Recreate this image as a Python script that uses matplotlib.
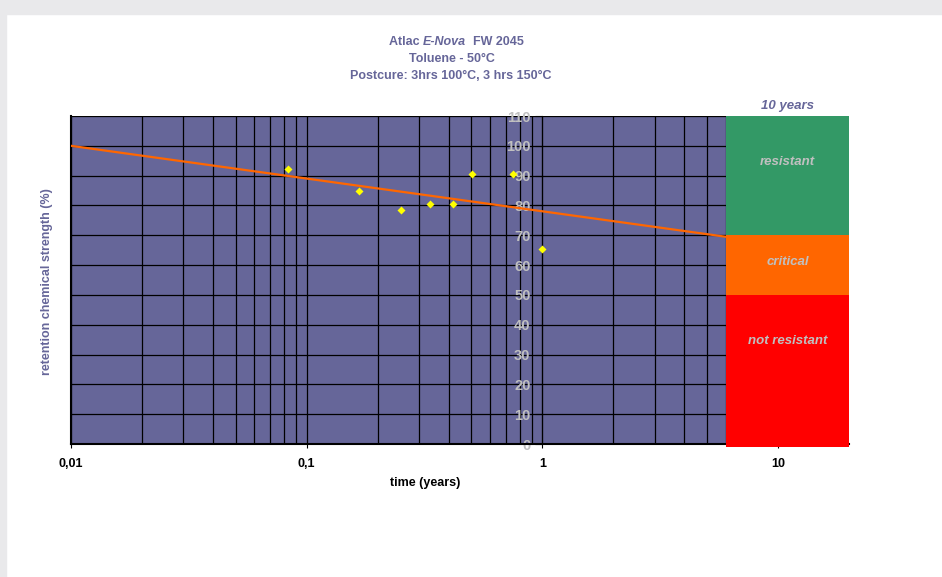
import matplotlib.pyplot as plt
from matplotlib.patches import Rectangle
from matplotlib.ticker import NullFormatter

plt.rcParams['font.family'] = ['Liberation Sans Narrow', 'Liberation Sans', 'DejaVu Sans']
plt.rcParams['font.weight'] = 'bold'

####################### DATA ###############################
# measured retention (%) vs time (years)
time_years = [0.0837, 0.167, 0.251, 0.335, 0.419, 0.502, 0.753, 1.0]
retention = [92.3, 84.7, 78.5, 80.6, 80.5, 90.6, 90.5, 65.4]

# logarithmic trend line end points
trend_x = [0.01, 6]
trend_y = [100, 69.5]

# classification bands at 10 years
band_x = [6, 20]
band_names = ['resistant', 'critical', 'not resistant']
band_low = [70, 50, -1]
band_high = [110, 70, 50]
band_colors = ['#339966', '#FF6600', '#FF0000']
band_label_y = [94.6, 61, 34.5]

xtick_values = [0.01, 0.1, 1, 10]
xtick_labels = ['0,01', '0,1', '1', '10']
ytick_values = list(range(0, 111, 10))

PURPLE = '#666699'
GREY = '#C0C0C0'

####################### PLOT ###############################
fig = plt.figure(figsize=(9.42, 5.77), dpi=100)
fig.patches.append(Rectangle((0, 1 - 14 / 577), 1, 14 / 577, transform=fig.transFigure,
                             color='#E9E9EB', zorder=0))
fig.patches.append(Rectangle((0, 0), 6 / 942, 1, transform=fig.transFigure,
                             color='#E9E9EB', zorder=0))

ax = fig.add_axes([71 / 942, 133 / 577, 778 / 942, 328 / 577])
ax.set_facecolor(PURPLE)
ax.set_xscale('log')
ax.set_xlim(0.01, 20)
ax.set_ylim(0, 110)

# grid
ax.set_xticks(xtick_values)
ax.set_xticklabels(xtick_labels, fontsize=9)
ax.xaxis.set_minor_formatter(NullFormatter())
ax.set_yticks(ytick_values)
ax.grid(which='both', axis='x', color='black', lw=0.9)
ax.grid(which='major', axis='y', color='black', lw=0.9)
ax.set_axisbelow(True)
ax.axvline(xtick_values[0], color='black', lw=1.5, clip_on=False)

ax.spines['top'].set_visible(False)
ax.spines['right'].set_visible(False)
ax.spines['left'].set_position(('data', 1))
ax.spines['bottom'].set_linewidth(1.5)
ax.tick_params(axis='x', which='major', length=3, pad=7, colors='black')
ax.tick_params(axis='x', which='minor', length=0)
ax.tick_params(axis='y', length=5, pad=3.5, labelcolor=GREY, labelsize=10.5)

# bands
for name, lo, hi, col, ly in zip(band_names, band_low, band_high, band_colors, band_label_y):
    ax.fill_between(band_x, lo, hi, color=col, lw=0, zorder=4, clip_on=False)
    ax.text((band_x[0] * band_x[1]) ** 0.5, ly, name, color=GREY, fontsize=9.5,
            style='italic', ha='center', va='center', zorder=5)
ax.text((band_x[0] * band_x[1]) ** 0.5, 111.5, '10 years', color=PURPLE, fontsize=9.5,
        style='italic', ha='center', va='bottom')

# trend and measurements
ax.plot(trend_x, trend_y, color='#FF6600', lw=1.6, zorder=3)
ax.plot(time_years, retention, 'D', color='#FFFF00', ms=3.6, mec='none', zorder=3)

# titles
t1 = fig.text(389 / 942, 1 - 42 / 577, 'Atlac ', color=PURPLE, fontsize=9,
              ha='left', va='center')
t2 = fig.text(0, 0, 'E-Nova', color=PURPLE, fontsize=9, style='italic')
t3 = fig.text(0, 0, '  FW 2045', color=PURPLE, fontsize=9)
fig.canvas.draw()
r = fig.canvas.get_renderer()
bb1 = t1.get_window_extent(r)
t2.set_position((bb1.x1 / fig.bbox.width, bb1.y0 / fig.bbox.height))
t2.set_va('bottom')
bb2 = t2.get_window_extent(r)
t3.set_position((bb2.x1 / fig.bbox.width, bb1.y0 / fig.bbox.height))
t3.set_va('bottom')

fig.text(452 / 942, 1 - 59 / 577, 'Toluene - 50°C', color=PURPLE, fontsize=9,
         ha='center', va='center')
fig.text(451 / 942, 1 - 76 / 577, 'Postcure: 3hrs 100°C, 3 hrs 150°C', color=PURPLE,
         fontsize=9, ha='center', va='center')

fig.text(47 / 942, 1 - 282 / 577, 'retention chemical strength (%)', color=PURPLE,
         fontsize=9, rotation=90, ha='center', va='center')
fig.text(425 / 942, 1 - 483 / 577, 'time (years)', color='black', fontsize=9,
         ha='center', va='center')

fig.savefig('out.png', dpi=100)
